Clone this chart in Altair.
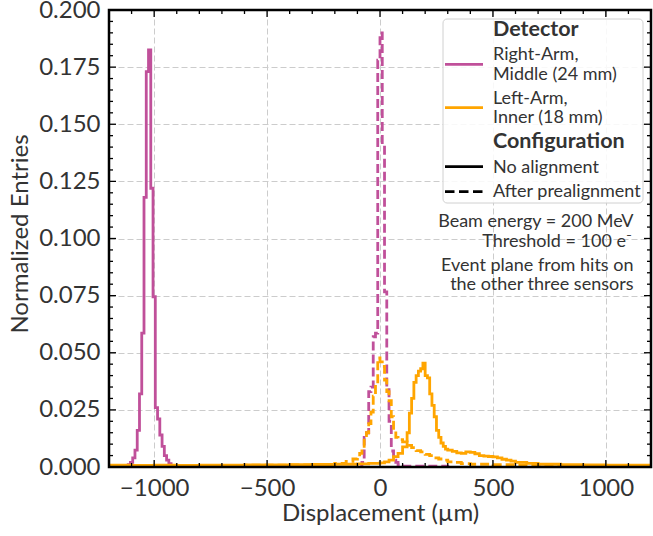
import altair as alt
import pandas as pd

# ---------------- data (histogram bin edges and normalized entries) ----------------
# Right-Arm, Middle (24 mm) - no alignment
ra_none_edges = [-1125, -1115, -1105, -1095, -1085, -1075, -1065, -1055, -1045, -1035, -1025,
                 -1015, -1005, -995, -985, -975, -965, -955, -945, -935, -925, -915, -905]
ra_none_vals = [0, 0.001, 0.002, 0.004, 0.0074, 0.016, 0.032, 0.0586, 0.118, 0.173, 0.1825,
                0.122, 0.0745, 0.026, 0.021, 0.014, 0.009, 0.005, 0.003, 0.0015, 0.0005, 0]

# Right-Arm, Middle (24 mm) - after prealignment
ra_pre_edges = [-90, -80, -70, -60, -50, -40, -30, -20, -10, 0, 10, 20, 30, 40, 50, 60, 70, 80,
                90, 100, 300, 310]
ra_pre_vals = [0, 0.002, 0.013, 0.015, 0.033, 0.035, 0.057, 0.0586, 0.178, 0.190, 0.141, 0.0766,
               0.035, 0.020, 0.007, 0.003, 0.002, 0.001, 0.0005, 0.0004, 0]

# Left-Arm, Inner (18 mm) - no alignment
la_none_edges = [-1200, -1100, -1000, -900, -800, -700, -600, -500, -400, -300,
                 -200, -100, -50, 0, 20, 40, 60, 80, 100, 120,
                 130, 140, 150, 160, 170, 180, 190, 200, 210, 220,
                 230, 240, 250, 260, 270, 280, 290, 300, 320, 340,
                 360, 380, 400, 420, 440, 460, 480, 500, 520, 540,
                 560, 580, 600, 650, 700, 800, 900, 1000, 1100, 1200]
la_none_vals = [0.0008, 0.0007, 0.0008, 0.0007, 0.0008, 0.0008, 0.0009, 0.0009, 0.0010, 0.0011,
                0.0012, 0.0014, 0.0016, 0.0018, 0.0022, 0.0030, 0.0045, 0.0060, 0.0088, 0.015,
                0.0236, 0.030, 0.037, 0.040, 0.042, 0.043, 0.0455, 0.040, 0.039, 0.032,
                0.027, 0.022, 0.016, 0.013, 0.0105, 0.009, 0.0078, 0.0074, 0.0068, 0.0062,
                0.006, 0.0066, 0.0064, 0.0058, 0.005, 0.0048, 0.0046, 0.0044, 0.004, 0.0034,
                0.003, 0.0026, 0.002, 0.0016, 0.0012, 0.001, 0.0009, 0.0008, 0.0008]

# Left-Arm, Inner (18 mm) - after prealignment
la_pre_edges = [-1200, -1000, -800, -600, -400, -300, -200, -150, -120, -100,
                -90, -80, -70, -60, -50, -40, -30, -20, -10, 0,
                10, 20, 30, 40, 50, 60, 70, 80, 90, 100,
                120, 140, 160, 180, 200, 220, 240, 260, 280, 300,
                330, 360, 400, 500, 600, 800, 1000, 1200]
la_pre_vals = [0.0006, 0.0007, 0.0007, 0.0008, 0.0009, 0.0011, 0.0016, 0.0025, 0.0035, 0.004,
               0.006, 0.008, 0.0125, 0.015, 0.019, 0.024, 0.031, 0.036, 0.0477, 0.046,
               0.044, 0.038, 0.033, 0.029, 0.022, 0.016, 0.013, 0.0125, 0.012, 0.011,
               0.0095, 0.0085, 0.0072, 0.0066, 0.0055, 0.005, 0.004, 0.0035, 0.003, 0.0022,
               0.002, 0.0015, 0.0012, 0.001, 0.0009, 0.0007, 0.0006]

x_tick_values = [-1000, -500, 0, 500, 1000]
x_minor_values = [-1100, -900, -800, -700, -600, -400, -300, -200, -100,
                  100, 200, 300, 400, 600, 700, 800, 900, 1100]
y_tick_values = [0.0, 0.025, 0.05, 0.075, 0.1, 0.125, 0.15, 0.175, 0.2]
y_minor_values = [0.005, 0.01, 0.015, 0.02, 0.03, 0.035, 0.04, 0.045, 0.055, 0.06, 0.065, 0.07,
                  0.08, 0.085, 0.09, 0.095, 0.105, 0.11, 0.115, 0.12, 0.13, 0.135, 0.14, 0.145,
                  0.155, 0.16, 0.165, 0.17, 0.18, 0.185, 0.19, 0.195]

MAGENTA = "#c0509a"
ORANGE = "#ffa500"
TXT = "#333333"
FONT = "Lato"
W, H = 542, 457

xs = alt.Scale(domain=[-1200, 1200], nice=False, zero=False)
ys = alt.Scale(domain=[0, 0.2], nice=False, zero=False)


def steps(edges, vals):
    rows = [{"x": e, "y": v} for e, v in zip(edges[:-1], vals)]
    rows.append({"x": edges[-1], "y": vals[-1]})
    return pd.DataFrame(rows)


x_axis = alt.Axis(values=x_tick_values, format="d", grid=True, gridDash=[6, 3],
                  gridColor="#cccccc", gridWidth=1, domain=False, ticks=False, tickSize=0,
                  labelPadding=9, labelFont=FONT, labelFontSize=24, labelColor=TXT,
                  labelFlush=False, title="Displacement (µm)", titleFont=FONT,
                  titleFontSize=24, titleFontWeight="normal", titleColor=TXT,
                  titleX=W / 2, titleY=53, titleBaseline="alphabetic")
y_axis = alt.Axis(values=y_tick_values, format=".3f", grid=True, gridDash=[6, 3],
                  gridColor="#cccccc", gridWidth=1, domain=False, ticks=False, tickSize=0,
                  labelPadding=9, labelFont=FONT, labelFontSize=24, labelColor=TXT,
                  labelFlush=False, labelOverlap=False, title="Normalized Entries",
                  titleFont=FONT, titleFontSize=24, titleFontWeight="normal",
                  titleColor=TXT, titleX=-82, titleY=H / 2 - 5, titleBaseline="alphabetic")


def hist(edges, vals, color, dash=None):
    kw = dict(interpolate="step-after", color=color, strokeWidth=2.8, clip=True)
    if dash:
        kw["strokeDash"] = dash
    return alt.Chart(steps(edges, vals)).mark_line(**kw).encode(
        x=alt.X("x:Q", scale=xs, axis=x_axis),
        y=alt.Y("y:Q", scale=ys, axis=y_axis),
    )


DASH = [9, 4]
lines = [
    hist(ra_none_edges, ra_none_vals, MAGENTA),
    hist(ra_pre_edges, ra_pre_vals, MAGENTA, DASH),
    hist(la_none_edges, la_none_vals, ORANGE),
    hist(la_pre_edges, la_pre_vals, ORANGE, DASH),
]

# ---------------- inward ticks ----------------
def xticks(vals, length):
    d = pd.DataFrame({"x": vals})
    b = alt.Chart(d).mark_rule(color="black", strokeWidth=1.3).encode(
        x=alt.X("x:Q", scale=xs, axis=x_axis), y=alt.value(H), y2=alt.value(H - length))
    t = alt.Chart(d).mark_rule(color="black", strokeWidth=1.3).encode(
        x=alt.X("x:Q", scale=xs, axis=x_axis), y=alt.value(0), y2=alt.value(length))
    return [b, t]


def yticks(vals, length):
    d = pd.DataFrame({"y": vals})
    l = alt.Chart(d).mark_rule(color="black", strokeWidth=1.3).encode(
        y=alt.Y("y:Q", scale=ys, axis=y_axis), x=alt.value(0), x2=alt.value(length))
    r = alt.Chart(d).mark_rule(color="black", strokeWidth=1.3).encode(
        y=alt.Y("y:Q", scale=ys, axis=y_axis), x=alt.value(W), x2=alt.value(W - length))
    return [l, r]


ticks = xticks(x_tick_values, 7) + xticks(x_minor_values, 4) + \
    yticks(y_tick_values, 7) + yticks(y_minor_values, 4)

one = alt.Data(values=[{"k": 0}])
frame = alt.Chart(one).mark_rect(fillOpacity=0, stroke="black", strokeWidth=2.5).encode(
    x=alt.value(0), x2=alt.value(W), y=alt.value(0), y2=alt.value(H))

# ---------------- legend (drawn manually) ----------------
legend_box = alt.Chart(one).mark_rect(fill="white", fillOpacity=0.85, stroke="#d0d0d0",
                                      strokeWidth=1, cornerRadius=4).encode(
    x=alt.value(334), x2=alt.value(534), y=alt.value(9), y2=alt.value(193))


def sample(y, color, dash=None):
    kw = dict(color=color, strokeWidth=2.8)
    if dash:
        kw["strokeDash"] = dash
    return alt.Chart(one).mark_rule(**kw).encode(
        x=alt.value(336), x2=alt.value(374), y=alt.value(y))


def txt(s, x, y, size=18, bold=False, align="left"):
    return alt.Chart(one).mark_text(text=s, align=align, baseline="alphabetic", font=FONT,
                                    fontSize=size, fontWeight="bold" if bold else "normal",
                                    color=TXT).encode(x=alt.value(x), y=alt.value(y))


LX = 384
legend = [
    legend_box,
    txt("Detector", LX, 25.5, size=21.5, bold=True),
    sample(54.3, MAGENTA),
    txt("Right-Arm,", LX, 50),
    txt("Middle (24 mm)", LX, 70),
    sample(97.7, ORANGE),
    txt("Left-Arm,", LX, 94.3),
    txt("Inner (18 mm)", LX, 113.3),
    txt("Configuration", LX, 137.8, size=21.5, bold=True),
    sample(156.7, "black"),
    txt("No alignment", LX, 162.7),
    sample(181.7, "black", [9.5, 4.5]),
    txt("After prealignment", LX, 186.7),
]

notes = [
    txt("Beam energy = 200 MeV", 524.5, 216.7, size=18, align="right"),
    txt("Threshold = 100 e\u207b", 523, 236.7, size=18, align="right"),
    txt("Event plane from hits on", 524.5, 261, size=18, align="right"),
    txt("the other three sensors", 524.5, 280, size=18, align="right"),
]

chart = alt.layer(*lines, *ticks, frame, *legend, *notes).properties(
    width=W, height=H,
    autosize=alt.AutoSizeParams(type="none"),
    padding={"left": 109, "top": 10, "right": 2, "bottom": 69},
    background="white",
).configure_view(stroke=None)

chart.save("out.html", embed_options={"renderer": "svg", "actions": False})
